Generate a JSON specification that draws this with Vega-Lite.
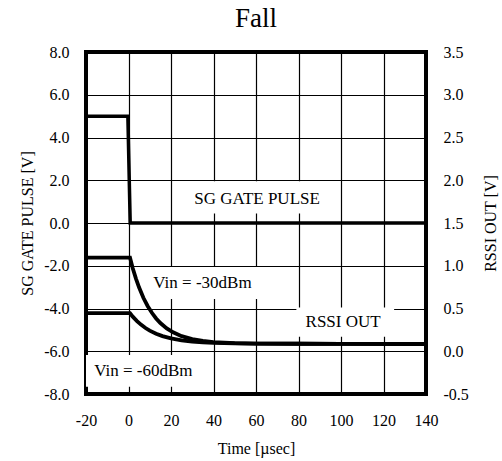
{
  "$schema": "https://vega.github.io/schema/vega-lite/v6.json",
  "width": 340,
  "height": 342,
  "autosize": {"type": "none"},
  "padding": {"left": 86, "top": 52, "right": 76, "bottom": 67},
  "background": "white",
  "title": {"text": "Fall", "font": "Liberation Serif", "fontSize": 27, "fontWeight": "normal", "color": "black", "frame": "group", "anchor": "middle", "offset": 11},
  "config": {
    "locale": {"number": {"decimal": ".", "thousands": ",", "grouping": [3], "currency": ["$", ""], "minus": "-"}},
    "view": {"stroke": "black", "strokeWidth": 4},
    "axis": {
      "labelFont": "Liberation Serif", "labelFontSize": 16, "labelColor": "black",
      "titleFont": "Liberation Serif", "titleFontSize": 16, "titleFontWeight": "normal", "titleColor": "black",
      "domain": false, "ticks": false, "tickSize": 0, "labelFlush": false,
      "gridColor": "black", "gridWidth": 1.2, "gridOpacity": 1
    }
  },
  "datasets": {
    "boxes": [
      {"x0": 22, "x1": 98, "v0": 0.45, "v1": 1.95},
      {"x0": 10, "x1": 78, "v0": -3.55, "v1": -2.06},
      {"x0": 79, "x1": 125, "v0": -5.32, "v1": -3.95},
      {"x0": -20, "x1": 33, "v0": -7.66, "v1": -6.17}
    ],
    "sg": [
      {"t": -20, "v": 5.0}, {"t": -0.3, "v": 5.0}, {"t": 0.8, "v": 0.0}, {"t": 140, "v": 0.0}
    ],
    "labels": [
      {"t": 60.5, "v": 1.12, "label": "SG GATE PULSE"},
      {"t": 34.8, "v": -2.82, "label": "Vin = -30dBm"},
      {"t": 101, "v": -4.62, "label": "RSSI OUT"},
      {"t": 7, "v": -6.92, "label": "Vin = -60dBm"}
    ],
    "rssi": [
      {"series": "-30dBm", "t": -20, "r": 1.095}, {"series": "-30dBm", "t": 0.7, "r": 1.095},
      {"series": "-30dBm", "t": 2, "r": 0.97}, {"series": "-30dBm", "t": 3.5, "r": 0.85},
      {"series": "-30dBm", "t": 5, "r": 0.745}, {"series": "-30dBm", "t": 7, "r": 0.625},
      {"series": "-30dBm", "t": 9, "r": 0.53}, {"series": "-30dBm", "t": 11, "r": 0.45},
      {"series": "-30dBm", "t": 13, "r": 0.384}, {"series": "-30dBm", "t": 15, "r": 0.33},
      {"series": "-30dBm", "t": 18, "r": 0.268}, {"series": "-30dBm", "t": 21, "r": 0.221},
      {"series": "-30dBm", "t": 25, "r": 0.177}, {"series": "-30dBm", "t": 30, "r": 0.142},
      {"series": "-30dBm", "t": 35, "r": 0.12}, {"series": "-30dBm", "t": 40, "r": 0.107},
      {"series": "-30dBm", "t": 50, "r": 0.094}, {"series": "-30dBm", "t": 60, "r": 0.09},
      {"series": "-30dBm", "t": 80, "r": 0.088}, {"series": "-30dBm", "t": 100, "r": 0.087},
      {"series": "-30dBm", "t": 140, "r": 0.085},
      {"series": "-60dBm", "t": -20, "r": 0.445}, {"series": "-60dBm", "t": 0.7, "r": 0.445},
      {"series": "-60dBm", "t": 2, "r": 0.405}, {"series": "-60dBm", "t": 4, "r": 0.353},
      {"series": "-60dBm", "t": 6, "r": 0.309}, {"series": "-60dBm", "t": 8, "r": 0.272},
      {"series": "-60dBm", "t": 10, "r": 0.241}, {"series": "-60dBm", "t": 13, "r": 0.205},
      {"series": "-60dBm", "t": 16, "r": 0.177}, {"series": "-60dBm", "t": 20, "r": 0.15},
      {"series": "-60dBm", "t": 25, "r": 0.127}, {"series": "-60dBm", "t": 30, "r": 0.113},
      {"series": "-60dBm", "t": 35, "r": 0.104}, {"series": "-60dBm", "t": 40, "r": 0.098},
      {"series": "-60dBm", "t": 50, "r": 0.092}, {"series": "-60dBm", "t": 60, "r": 0.09},
      {"series": "-60dBm", "t": 80, "r": 0.088}, {"series": "-60dBm", "t": 100, "r": 0.087},
      {"series": "-60dBm", "t": 140, "r": 0.085}
    ]
  },
  "layer": [
    {
      "layer": [
        {
          "data": {"name": "boxes"},
          "mark": {"type": "rect", "fill": "white", "stroke": null},
          "encoding": {
            "x": {"field": "x0", "type": "quantitative", "scale": {"domain": [-20, 140], "nice": false}, "title": "Time [µsec]",
                  "axis": {"values": [-20, 0, 20, 40, 60, 80, 100, 120, 140], "grid": true, "labelPadding": 18, "titlePadding": 12}},
            "x2": {"field": "x1"},
            "y": {"field": "v0", "type": "quantitative", "scale": {"domain": [-8, 8], "nice": false}, "title": "SG GATE PULSE [V]",
                  "axis": {"values": [-8, -6, -4, -2, 0, 2, 4, 6, 8], "format": ".1f", "grid": true, "labelPadding": 17, "titlePadding": 8}},
            "y2": {"field": "v1"}
          }
        },
        {
          "data": {"name": "sg"},
          "mark": {"type": "line", "color": "black", "strokeWidth": 3.5, "strokeJoin": "miter"},
          "encoding": {
            "x": {"field": "t", "type": "quantitative", "scale": {"domain": [-20, 140], "nice": false}, "title": "Time [µsec]"},
            "y": {"field": "v", "type": "quantitative", "scale": {"domain": [-8, 8], "nice": false}, "title": "SG GATE PULSE [V]"}
          }
        },
        {
          "data": {"name": "labels"},
          "mark": {"type": "text", "font": "Liberation Serif", "fontSize": 17, "color": "black", "align": "center", "baseline": "middle"},
          "encoding": {
            "x": {"field": "t", "type": "quantitative", "scale": {"domain": [-20, 140], "nice": false}, "title": "Time [µsec]"},
            "y": {"field": "v", "type": "quantitative", "scale": {"domain": [-8, 8], "nice": false}, "title": "SG GATE PULSE [V]"},
            "text": {"field": "label"}
          }
        }
      ]
    },
    {
      "data": {"name": "rssi"},
      "mark": {"type": "line", "color": "black", "strokeWidth": 3.8},
      "encoding": {
        "x": {"field": "t", "type": "quantitative", "scale": {"domain": [-20, 140], "nice": false}, "title": "Time [µsec]"},
        "y": {"field": "r", "type": "quantitative", "scale": {"domain": [-0.5, 3.5], "nice": false}, "title": "RSSI OUT [V]",
              "axis": {"orient": "right", "values": [-0.5, 0, 0.5, 1, 1.5, 2, 2.5, 3, 3.5], "format": ".1f", "grid": false, "labelPadding": 17, "titlePadding": 30, "titleAngle": 270}},
        "detail": {"field": "series"}
      }
    }
  ],
  "resolve": {"scale": {"y": "independent"}}
}
